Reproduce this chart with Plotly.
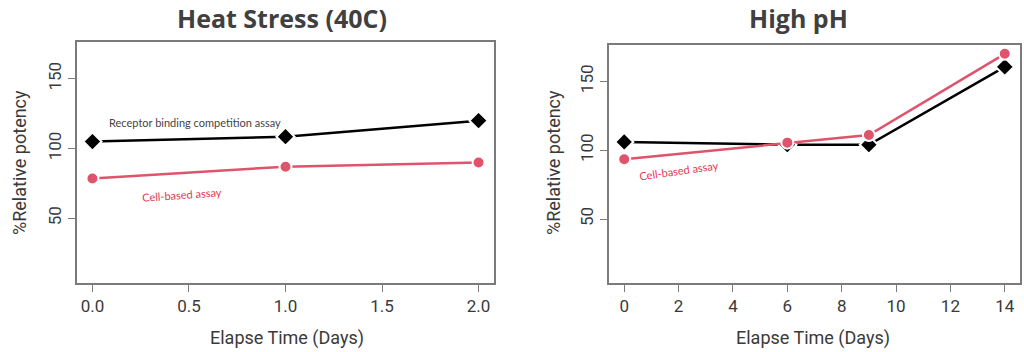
import plotly.graph_objects as go

# ---- data ----
heat_days = [0, 1, 2]
heat_receptor = [105, 108.5, 120]
heat_cell = [78.5, 87, 90]

ph_days = [0, 6, 9, 14]
ph_receptor = [106, 104, 104, 160.5]
ph_cell = [93.5, 105.5, 111, 170]

heat_xticks = [0, 0.5, 1, 1.5, 2]
heat_xticklabels = ["0.0", "0.5", "1.0", "1.5", "2.0"]
ph_xticks = [0, 2, 4, 6, 8, 10, 12, 14]
y_ticks = [50, 100, 150]

titles = ["Heat Stress (40C)", "High pH"]
x_title = "Elapse Time (Days)"
y_title = "%Relative potency"

BLACK = "#000000"
RED = "#DF536B"
TXT = "#3a3a3a"
BOX = "#7a7a7a"
NARROW = "Roboto, sans-serif"

fig = go.Figure()

def add_series(x, y, xa, ya):
    fig.add_trace(go.Scatter(x=x, y=y, xaxis=xa, yaxis=ya, mode="lines+markers",
                             line=dict(color=BLACK, width=2.5),
                             marker=dict(symbol="diamond", size=14, color=BLACK,
                                         line=dict(color="white", width=2)),
                             showlegend=False))

def add_cell(x, y, xa, ya):
    fig.add_trace(go.Scatter(x=x, y=y, xaxis=xa, yaxis=ya, mode="lines+markers",
                             line=dict(color=RED, width=2.5),
                             marker=dict(symbol="circle", size=12, color=RED,
                                         line=dict(color="white", width=2)),
                             showlegend=False))

add_series(heat_days, heat_receptor, "x", "y")
add_cell(heat_days, heat_cell, "x", "y")
add_series(ph_days, ph_receptor, "x2", "y2")
add_cell(ph_days, ph_cell, "x2", "y2")

narrow_font = dict(family=NARROW, size=17, color=TXT)

axis_common = dict(showline=True, linecolor=BOX, linewidth=1.5, mirror=True,
                   ticks="outside", ticklen=7, tickcolor=BOX, tickwidth=1.2,
                   showgrid=False, zeroline=False, automargin=False,
                   tickfont=narrow_font)

fig.update_layout(
    width=1024, height=352,
    margin=dict(l=0, r=0, t=0, b=0),
    paper_bgcolor="white", plot_bgcolor="white",
    xaxis=dict(domain=[77/1024, 494/1024], range=[-0.08, 2.08],
               tickvals=heat_xticks, ticktext=heat_xticklabels, anchor="y", **axis_common),
    yaxis=dict(domain=[1-283/352, 1-42/352], range=[3.6, 176.4], tickvals=y_ticks,
               tickangle=-90, anchor="x", **axis_common),
    xaxis2=dict(domain=[609/1024, 1020/1024], range=[-0.56, 14.56],
                tickvals=ph_xticks, anchor="y2", **axis_common),
    yaxis2=dict(domain=[1-283/352, 1-45/352], range=[3.6, 176.4], tickvals=y_ticks,
                tickangle=-90, anchor="x2", **axis_common),
)

ann = []
C = dict(xref="paper", yref="paper", xanchor="center", yanchor="middle", showarrow=False)
T = dict(xref="paper", yref="paper", xanchor="center", yanchor="top", showarrow=False,
         borderpad=0)
# titles
ann.append(dict(text="<b>" + titles[0] + "</b>", x=282/1024, y=1.0,
                font=dict(family="Open Sans", size=25, color="#404040"), **T))
ann.append(dict(text="<b>" + titles[1] + "</b>", x=798/1024, y=1.0,
                font=dict(family="Open Sans", size=25, color="#404040"), **T))
# axis titles
ax_font = dict(family=NARROW, size=18, color=TXT)
for cx in [287, 813]:
    ann.append(dict(text=x_title, x=cx/1024, y=1-338/352, font=ax_font, **C))
for cx in [19, 553]:
    ann.append(dict(text=y_title, x=cx/1024, y=1-163/352, textangle=-90, font=ax_font, **C))
# series labels
ann.append(dict(text="Receptor binding competition assay", x=0.53, y=119, xref="x", yref="y",
                xanchor="center", yanchor="middle",
                showarrow=False, font=dict(family="Lato", size=11, color="#444444")))
ann.append(dict(text="Cell-based assay", x=0.465, y=67, xref="x", yref="y", textangle=-4,
                xanchor="center", yanchor="middle",
                showarrow=False, font=dict(family="Lato", size=11, color="#E03A52")))
ann.append(dict(text="Cell-based assay", x=2.0, y=85, xref="x2", yref="y2", textangle=-8,
                xanchor="center", yanchor="middle",
                showarrow=False, font=dict(family="Lato", size=11, color="#E03A52")))
fig.update_layout(annotations=ann)

fig.write_html("out.html")
